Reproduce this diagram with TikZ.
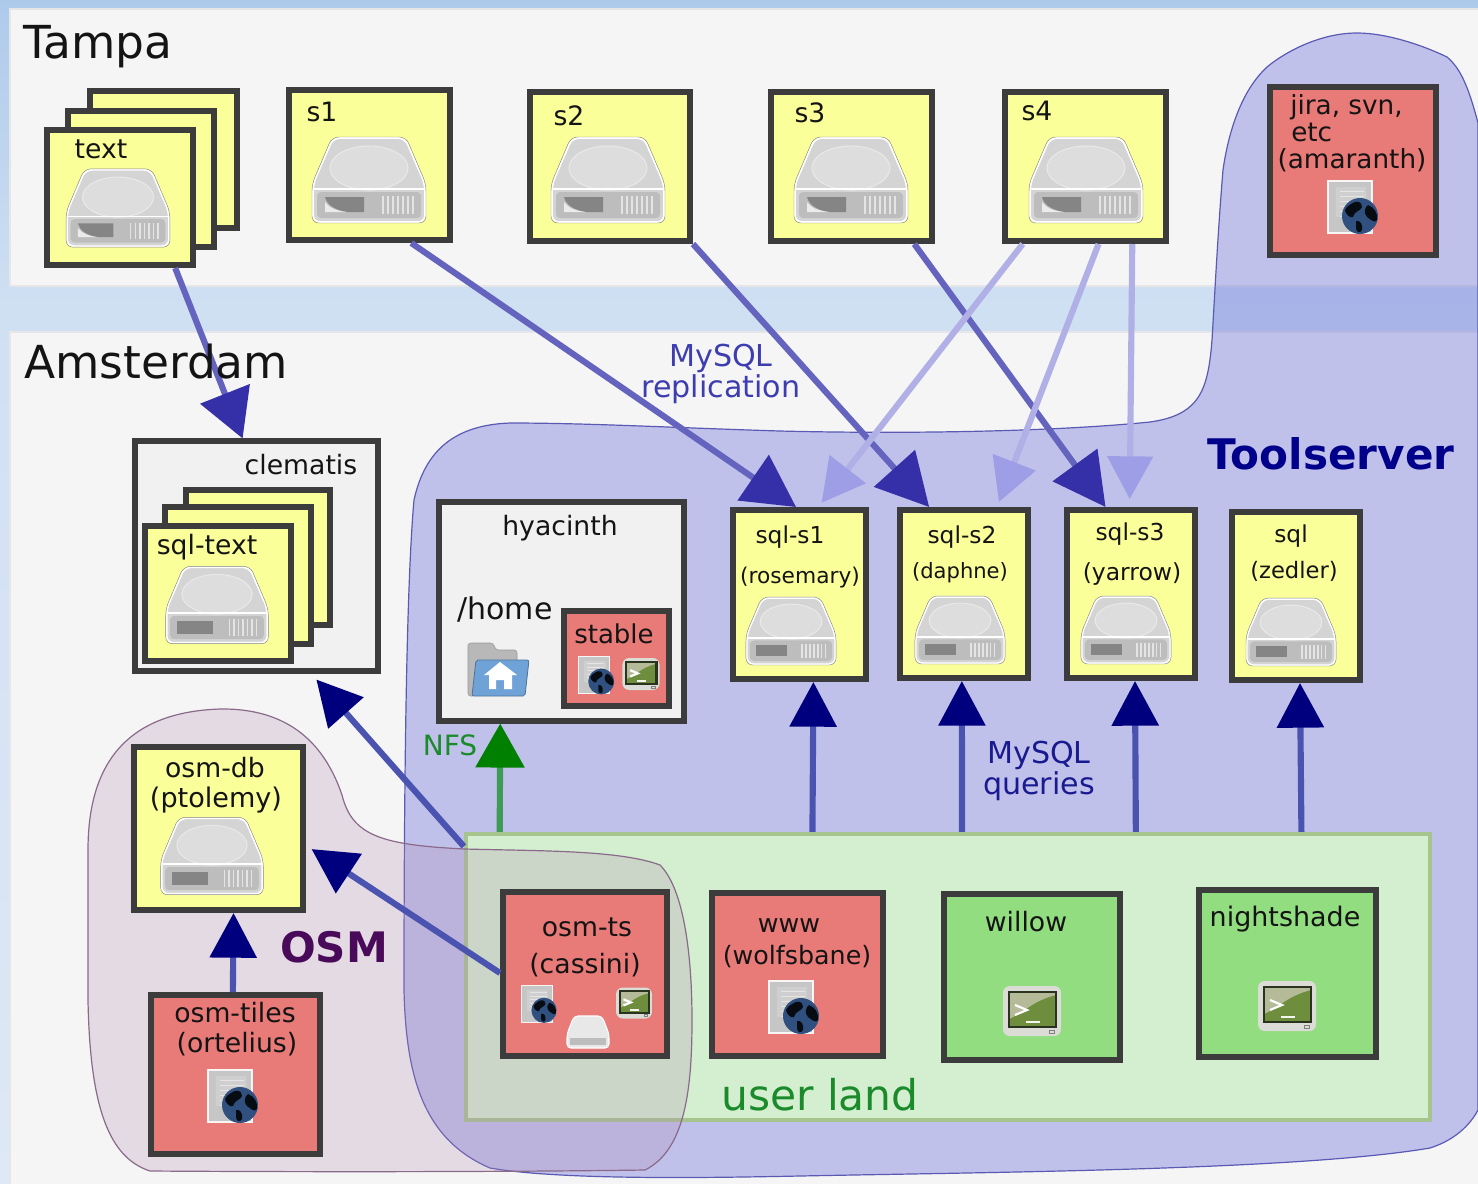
\documentclass[tikz,border=0pt]{standalone}
\usepackage{fontspec}
\setmainfont{DejaVu Sans}
\usetikzlibrary{arrows.meta,calc}
\definecolor{bgtop}{RGB}{174,202,235}
\definecolor{bgmid}{RGB}{208,224,243}
\definecolor{bgbot}{RGB}{222,232,246}
\pgfdeclareverticalshading{bgshade}{100bp}{color(0bp)=(bgbot); color(25bp)=(bgbot); color(62bp)=(bgmid); color(75bp)=(bgtop); color(100bp)=(bgtop)}
\definecolor{panel}{HTML}{F5F5F5}
\definecolor{panelline}{HTML}{E6E6E8}
\definecolor{boxline}{HTML}{3C3C3C}
\definecolor{dbfill}{HTML}{FBFF99}
\definecolor{webfill}{HTML}{E87A78}
\definecolor{shfill}{HTML}{92DD80}
\definecolor{greybox}{HTML}{F1F1F1}
\definecolor{tsblob}{RGB}{87,90,212}
\definecolor{tsline}{HTML}{5A5AB4}
\definecolor{osmblob}{RGB}{180,140,180}
\definecolor{osmline}{HTML}{8A6A8A}
\definecolor{ulfill}{HTML}{D4EFD0}
\definecolor{ulline}{HTML}{A5C48E}
\definecolor{repline}{HTML}{6464BE}
\definecolor{rephead}{HTML}{3530A8}
\definecolor{fadeline}{HTML}{B0B0E6}
\definecolor{fadehead}{HTML}{9E9EE6}
\definecolor{qline}{HTML}{4A54B0}
\definecolor{qhead}{HTML}{00007F}
\definecolor{nfsline}{HTML}{3F9A55}
\definecolor{nfshead}{HTML}{008000}
\definecolor{ink}{HTML}{141414}
\definecolor{mysqlA}{HTML}{3D3DB0}
\definecolor{mysqlB}{HTML}{1A1A90}
\definecolor{ulgreen}{HTML}{1A8A2A}
\definecolor{osmpurple}{HTML}{4A0A5A}
\definecolor{tsnavy}{HTML}{00008B}
\definecolor{diskbody}{HTML}{D4D4D4}
\definecolor{diskfront}{HTML}{BDBDBD}
\definecolor{diskplate}{HTML}{DDDDDD}
\definecolor{diskring}{HTML}{E8E8E8}
\definecolor{diskdark}{HTML}{858585}
\definecolor{pagefill}{HTML}{C6C6C6}
\definecolor{globe}{HTML}{30507F}
\definecolor{termcase}{HTML}{DCDCD6}
\definecolor{termscr}{HTML}{6E8E3E}
\definecolor{termlite}{HTML}{B5BB98}
\definecolor{termedge}{HTML}{2A3320}
\definecolor{foldgrey}{HTML}{B8B8B8}
\definecolor{foldblue}{HTML}{6FA3D8}
\newcommand\bx[6]{%
  \pgfmathsetmacro\bxw{(#4-#2)*0.75}%
  \pgfmathsetmacro\bxh{(#5-#3)*0.75}%
  \node[#6,minimum width=\bxw pt,minimum height=\bxh pt] (#1) at ({(#2+#4)/2},{(#3+#5)/2}) {};}
\tikzset{
  x=0.75pt,y=-0.75pt,
  frame/.style={rectangle,inner sep=0pt,draw=boxline,line width=4.5pt},
  dbbox/.style={frame,fill=dbfill},
  webbox/.style={frame,fill=webfill},
  shbox/.style={frame,fill=shfill},
  greyframe/.style={frame,fill=greybox,line width=3.8pt},
  panelbox/.style={rectangle,inner sep=0pt,fill=panel,draw=panelline,line width=2pt},
  ulbox/.style={rectangle,inner sep=0pt,fill=ulfill,draw=ulline,line width=3.2pt},
  tx/.style={font=\fontsize{#1}{#1}\selectfont,text=ink,inner sep=0pt,anchor=base},
  txl/.style={tx=#1,anchor=base west},
  rep/.style={draw=repline,line width=4.6pt,-{Triangle[length=39pt,width=40.5pt,color=rephead]}},
  repbig/.style={draw=repline,line width=4.6pt,-{Triangle[length=36pt,width=39pt,color=rephead]}},
  fade/.style={draw=fadeline,line width=4.6pt,shorten >=4pt,-{Triangle[length=32pt,width=33.5pt,color=fadehead]}},
  query/.style={draw=qline,line width=4.6pt,-{Triangle[length=33.5pt,width=34.5pt,color=qhead]}},
  nfs/.style={draw=nfsline,line width=4.6pt,-{Triangle[length=33pt,width=36pt,color=nfshead]}},
  disk/.pic={
    \draw[fill=diskbody,draw=white,line width=1.4pt,rounded corners=5pt]
      (-36,-42)--(36,-42)--(56,4)--(56,42)--(-56,42)--(-56,4)--cycle;
    \draw[draw=diskdark,line width=.35pt,rounded corners=5pt]
      (-37,-43)--(37,-43)--(57,4)--(57,43)--(-57,43)--(-57,4)--cycle;
    \draw[fill=diskplate,draw=diskring,line width=.8pt] (0,-12) ellipse [x radius=39,y radius=22];
    \fill[diskfront,rounded corners=3pt] (-52,12) rectangle (52,38);
    \draw[white,line width=1pt] (-55,9)--(55,9);
    \fill[diskdark] (-44,18) rectangle (-5,32);
    \foreach \gx in {14,19,...,44} {\draw[white!60!diskfront,line width=1pt] (\gx,16)--(\gx,34);}
  },
  diskb/.pic={
    \draw[fill=diskbody,draw=white,line width=1.4pt,rounded corners=5pt]
      (-36,-42)--(36,-42)--(56,4)--(56,42)--(-56,42)--(-56,4)--cycle;
    \draw[draw=diskdark,line width=.35pt,rounded corners=5pt]
      (-37,-43)--(37,-43)--(57,4)--(57,43)--(-57,43)--(-57,4)--cycle;
    \draw[fill=diskplate,draw=diskring,line width=.8pt] (0,-12) ellipse [x radius=39,y radius=22];
    \fill[diskfront,rounded corners=3pt] (-52,12) rectangle (52,38);
    \draw[white,line width=1pt] (-55,9)--(55,9);
    \fill[diskdark] (-44,17)--(-5,17)--(-5,32)--(-22,32) .. controls (-34,30) and (-42,25) .. (-44,17)--cycle;
    \fill[white!70!diskfront] (-44,22) .. controls (-40,28) and (-32,31) .. (-22,32)--(-44,32)--cycle;
    \foreach \gx in {14,19,...,44} {\draw[white!60!diskfront,line width=1pt] (\gx,16)--(\gx,34);}
  },
  diskmini/.pic={
    \draw[fill=diskring,draw=white,line width=.8pt,rounded corners=3pt]
      (-14,-16)--(14,-16)--(21,2)--(21,16)--(-21,16)--(-21,2)--cycle;
    \fill[diskfront] (-18,6) rectangle (18,13);
  },
  webicon/.pic={
    \draw[fill=pagefill,draw=white!85!pagefill,line width=.9pt] (-22,-26) rectangle (22,26);
    \fill[white!15!pagefill] (-14,-20) rectangle (16,10);
    \foreach \ly in {-16,-11,...,9} {\draw[white!55!pagefill,line width=.6pt] (-10,\ly)--(14,\ly);}
    \fill[globe] (10,9) circle [radius=18];
    \fill[black!85!globe] (1,-3) .. controls (6,-7) and (12,-6) .. (12,0) .. controls (11,4) and (4,4) .. (3,10) .. controls (0,12) and (-5,6) .. (-5,3) .. controls (-4,0) and (-2,-1) .. (1,-3)--cycle;
    \fill[black!85!globe] (18,-2) .. controls (24,0) and (28,6) .. (27,13) .. controls (25,17) and (20,12) .. (17,10) .. controls (13,6) and (15,0) .. (18,-2)--cycle;
    \fill[black!85!globe] (6,14) .. controls (10,13) and (13,17) .. (12,23) .. controls (10,27) and (6,25) .. (6,21)--cycle;
  },
  termicon/.pic={
    \fill[termcase,rounded corners=5pt] (-29,-25) rectangle (29,25);
    \fill[termscr] (-23,-19) rectangle (24,16);
    \fill[termlite] (-23,-19)--(24,-19)--(24,-16) .. controls (12,-13) and (5,-9) .. (0,-6) .. controls (-8,-1) and (-16,5) .. (-23,8)--cycle;
    \draw[termedge,line width=1.7pt] (-23,-19) rectangle (24,16);
    \draw[white,line width=1.6pt] (-17,-6)--(-5,-1)--(-17,4);
    \draw[white!85!termlite,line width=1.6pt] (-6,11)--(8,11);
    \draw[black!50,line width=.6pt] (17,19) rectangle (22,22);
  },
  homeicon/.pic={
    \draw[fill=foldgrey,draw=black!40,line width=.4pt,rounded corners=2pt]
      (-31,-26)--(-6,-26)--(-3,-19)--(18,-19)--(18,-5)--(-24,27)--(-31,27)--cycle;
    \draw[fill=foldblue,draw=foldblue!70!black,line width=.6pt,rounded corners=1.5pt]
      (-23,-9)--(30,-9)--(26,27)--(-27,27)--cycle;
    \fill[white] (-15,6)--(1,-7)--(18,6)--(13,6)--(13,20)--(5,20)--(5,11)--(-3,11)--(-3,20)--(-10,20)--(-10,6)--cycle;
  },
}
\begin{document}
\begin{tikzpicture}
\useasboundingbox (0,0) rectangle (1478,1183);
\shade[shading=bgshade] (0,0) rectangle (1478,1183);
\bx{tampa}{10}{9}{1490}{286}{panelbox}
\bx{amsterdam}{10}{332}{1490}{1195}{panelbox}
% Toolserver region
\path[fill=tsblob,fill opacity=.33,draw=tsline,line width=.9pt]
  (1478,123) .. controls (1468,85) and (1460,68) .. (1447,57)
  .. controls (1420,44) and (1385,33) .. (1357,33)
  .. controls (1320,33) and (1285,52) .. (1267,67)
  .. controls (1240,92) and (1228,135) .. (1223,170)
  .. controls (1218,230) and (1215,290) .. (1212,340)
  .. controls (1208,390) and (1200,415) .. (1150,422)
  .. controls (1050,432) and (900,434) .. (780,431)
  .. controls (680,428) and (590,423) .. (510,423)
  .. controls (455,425) and (425,450) .. (414,500)
  .. controls (405,600) and (404,850) .. (404,990)
  .. controls (406,1080) and (425,1140) .. (490,1168)
  .. controls (560,1180) and (700,1178) .. (800,1176)
  .. controls (1000,1172) and (1300,1170) .. (1430,1148)
  .. controls (1455,1140) and (1470,1125) .. (1478,1110)
  -- (1478,123) -- cycle;
% user land
\bx{userland}{466}{834}{1430}{1120}{ulbox}
% OSM region
\path[fill=osmblob,fill opacity=.25,draw=osmline,line width=.9pt]
  (88,850) .. controls (88,760) and (130,712) .. (220,709)
  .. controls (290,708) and (325,745) .. (342,795)
  .. controls (352,835) and (380,845) .. (465,849)
  .. controls (540,851) and (620,850) .. (660,865)
  .. controls (685,890) and (692,960) .. (692,1020)
  .. controls (692,1090) and (685,1150) .. (645,1170)
  .. controls (500,1172) and (300,1172) .. (150,1171)
  .. controls (110,1158) and (90,1110) .. (88,1000)
  -- cycle;
% Tampa boxes
\bx{textback}{90}{91}{237}{228}{dbbox}
\bx{textmid}{68}{111}{214}{247}{dbbox}
\bx{textfront}{47}{130}{193}{265}{dbbox}
\bx{s1}{289}{90}{450}{240}{dbbox}
\bx{s2}{530}{92}{690}{241}{dbbox}
\bx{s3}{771}{92}{932}{241}{dbbox}
\bx{s4}{1005}{92}{1166}{241}{dbbox}
\bx{jira}{1270}{87}{1436}{255}{webbox}
% Amsterdam boxes
\bx{clematis}{135}{441}{378}{671}{greyframe}
\bx{clemback}{186}{490}{330}{625}{dbbox}
\bx{clemmid}{165}{507}{311}{644}{dbbox}
\bx{clemfront}{145}{526}{291}{661}{dbbox}
\bx{hyacinth}{439}{502}{684}{721}{greyframe}
\bx{stable}{564}{611}{669}{706}{webbox}
\bx{sqls1}{733}{510}{866}{679}{dbbox}
\bx{sqls2}{900}{510}{1028}{678}{dbbox}
\bx{sqls3}{1067}{510}{1195}{678}{dbbox}
\bx{sqlz}{1232}{512}{1360}{680}{dbbox}
\bx{osmdb}{134}{747}{303}{910}{dbbox}
\bx{osmtiles}{151}{995}{320}{1154}{webbox}
\bx{osmts}{503}{892}{667}{1056}{webbox}
\bx{www}{712}{893}{883}{1056}{webbox}
\bx{willow}{944}{894}{1120}{1060}{shbox}
\bx{nightshade}{1199}{890}{1376}{1057}{shbox}
% icons
\pic[scale=.91] at (118,208) {diskb};
\pic at (369,180) {diskb};
\pic at (608,180) {diskb};
\pic at (851,180) {diskb};
\pic at (1086,180) {diskb};
\pic[scale=.9] at (217,605) {disk};
\pic[scale=.79] at (791,631) {disk};
\pic[scale=.79] at (960,630) {disk};
\pic[scale=.79] at (1126,630) {disk};
\pic[scale=.79] at (1291,632) {disk};
\pic[scale=.9] at (212,856) {disk};
\pic at (588,1032) {diskmini};
\pic at (1350,207) {webicon};
\pic at (230,1096) {webicon};
\pic at (791,1007) {webicon};
\pic[scale=.72] at (594,675) {webicon};
\pic[scale=.7] at (537,1004) {webicon};
\pic[scale=.64] at (641,674) {termicon};
\pic[scale=.62] at (634,1003) {termicon};
\pic at (1032,1011) {termicon};
\pic at (1287,1006) {termicon};
\pic at (499,669) {homeicon};
% connectors
\draw[repbig] ($(textfront.south west)!.863!(textfront.south east)$) -- ($(clematis.north west)!.444!(clematis.north east)$);
\draw[rep] ($(s1.south west)!.75!(s1.south east)$) -- ($(sqls1.north west)!.475!(sqls1.north east)$);
\draw[rep] (s2.south east) -- ($(sqls2.north west)!.24!(sqls2.north east)$);
\draw[rep] ($(s3.south west)!.876!(s3.south east)$) -- ($(sqls3.north west)!.31!(sqls3.north east)$);
\draw[fade] ($(s4.south west)!.124!(s4.south east)$) -- ($(sqls1.north west)!.635!(sqls1.north east)$);
\draw[fade] ($(s4.south west)!.578!(s4.south east)$) -- ($(sqls2.north west)!.746!(sqls2.north east)$);
\draw[fade,shorten >=6pt] ($(s4.south west)!.78!(s4.south east)$) -- ($(sqls3.north west)!.49!(sqls3.north east)$);
\draw[query] ($(userland.north west)!.36!(userland.north east)$) -- ($(sqls1.south west)!.6!(sqls1.south east)$);
\draw[query] ($(userland.north west)!.5145!(userland.north east)$) -- ($(sqls2.south west)!.484!(sqls2.south east)$);
\draw[query] ($(userland.north west)!.694!(userland.north east)$) -- ($(sqls3.south west)!.53!(sqls3.south east)$);
\draw[query] ($(userland.north west)!.865!(userland.north east)$) -- ($(sqlz.south west)!.53!(sqlz.south east)$);
\draw[nfs] ($(userland.north west)!.037!(userland.north east)$) -- ($(hyacinth.south west)!.255!(hyacinth.south east)$);
\draw[query,shorten >=6pt] ($(userland.north west)!.05!(userland.south west)$) -- ($(clematis.south west)!.72!(clematis.south east)$);
\draw[query,shorten >=5pt] ($(osmts.north west)!.494!(osmts.south west)$) -- ($(osmdb.north east)!.6!(osmdb.south east)$);
\draw[query] ($(osmtiles.north west)!.485!(osmtiles.north east)$) -- ($(osmdb.south west)!.586!(osmdb.south east)$);
% labels
\node[txl=34.1] (ltampa) at (23,58) {Tampa};
\node[txl=34.1] (lamsterdam) at (24,378) {Amsterdam};
\node[tx=20] (ltext) at (101,158) {text};
\node[tx=20] (ls1) at (322,121) {s1};
\node[tx=20] (ls2) at (569,125) {s2};
\node[tx=20] (ls3) at (810,122) {s3};
\node[tx=20] (ls4) at (1037,120) {s4};
\node[txl=19.7] (ljira) at (1290,114) {jira, svn,};
\node[txl=19.7] (letc) at (1291,141) {etc};
\node[tx=19.7] (lamaranth) at (1352,168) {(amaranth)};
\node[tx=20] (lclematis) at (301,474) {clematis};
\node[tx=20] (lsqltext) at (207,554) {sql-text};
\node[tx=20] (lhyacinth) at (560,535) {hyacinth};
\node[tx=22.5] (lhome) at (505,619) {/home};
\node[tx=19.5] (lstable) at (614,643) {stable};
\node[tx=17.5] (lsqlsa) at (790,543) {sql-s1};
\node[tx=16.3] (lrosemary) at (800,583) {(rosemary)};
\node[tx=17.5] (lsqlsb) at (962,543) {sql-s2};
\node[tx=15.8] (ldaphne) at (960,578) {(daphne)};
\node[tx=17.5] (lsqlsc) at (1130,540) {sql-s3};
\node[tx=17.6] (lyarrow) at (1132,580) {(yarrow)};
\node[tx=17.5] (lsql) at (1291,542) {sql};
\node[tx=17] (lzedler) at (1294,578) {(zedler)};
\node[tx=31.6,font=\fontsize{31.6}{31.6}\selectfont\bfseries,text=tsnavy] (ltool) at (1331,469) {Toolserver};
\node[tx=31.5,font=\fontsize{31.5}{31.5}\selectfont\bfseries,text=osmpurple] (losm) at (334,962) {OSM};
\node[tx=20] (losmdb) at (215,777) {osm-db};
\node[tx=20.3] (lptolemy) at (216,807) {(ptolemy)};
\node[tx=20] (losmtiles) at (235,1022) {osm-tiles};
\node[tx=20] (lortelius) at (237,1052) {(ortelius)};
\node[tx=20] (losmts) at (587,936) {osm-ts};
\node[tx=20] (lcassini) at (585,973) {(cassini)};
\node[tx=19] (lwww) at (789,932) {www};
\node[tx=19] (lwolf) at (797,964) {(wolfsbane)};
\node[tx=20] (lwillow) at (1026,931) {willow};
\node[tx=20.2] (lnight) at (1285,926) {nightshade};
\node[tx=31.8,text=ulgreen] (luser) at (820,1110) {user land};
\node[tx=21,text=ulgreen] (lnfs) at (450,755) {NFS};
\node[tx=22.6,text=mysqlA] (lmysqla) at (721,366) {MySQL};
\node[tx=22.6,text=mysqlA] (lrepl) at (721,397) {replication};
\node[tx=22.6,text=mysqlB] (lmysqlb) at (1039,763) {MySQL};
\node[tx=22.6,text=mysqlB] (lqueries) at (1039,794) {queries};
\end{tikzpicture}
\end{document}
